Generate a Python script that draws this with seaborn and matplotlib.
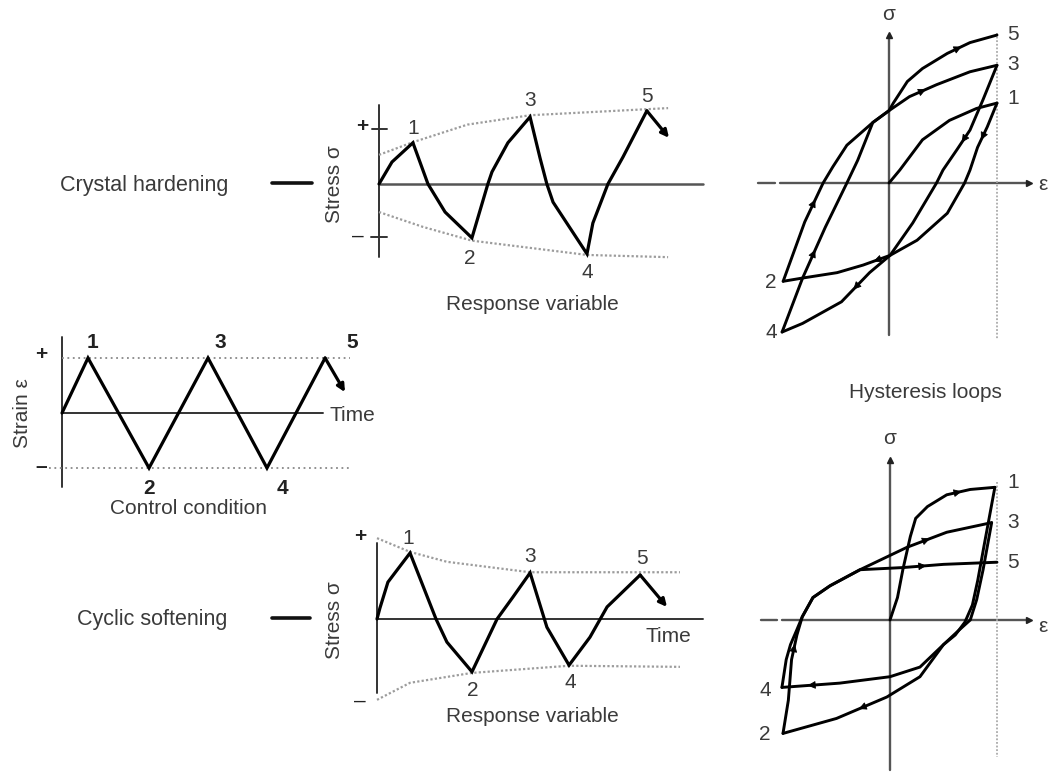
import matplotlib
matplotlib.use("Agg")
import matplotlib.pyplot as plt
from matplotlib.lines import Line2D
import numpy as np
import seaborn as sns

sns.set_theme(style="white")
plt.rcParams['font.family'] = ['Liberation Sans', 'DejaVu Sans']

# ---------------- data ----------------
# Control condition: strain vs time
ctrl_t = [0, 0.89, 2.98, 5.0, 7.02, 9.01]
ctrl_eps = [0, 1, -1, 1, -1, 1]
ctrl_end_t, ctrl_end_eps = 9.69, 0.38

# Crystal hardening: stress vs time
hard_t = [0, 0.44, 1.15, 1.66, 2.24, 3.15, 3.69, 3.83, 4.37, 5.12, 5.46, 5.69, 5.90, 7.05, 7.25, 7.76, 8.27, 9.08]
hard_sig = [0, 0.40, 0.75, 0, -0.51, -0.98, 0, 0.22, 0.75, 1.22, 0.47, 0, -0.33, -1.27, -0.71, 0, 0.49, 1.33]
hard_end_t, hard_end_sig = 9.83, 0.84
hard_up_t = [0, 1.15, 3.0, 5.12, 9.08, 9.8]
hard_up_sig = [0.53, 0.76, 1.08, 1.25, 1.36, 1.38]
hard_lo_t = [0, 1.49, 3.15, 7.05, 9.8]
hard_lo_sig = [-0.51, -0.78, -1.03, -1.29, -1.33]

# Cyclic softening: stress vs time
soft_t = [0, 0.10, 0.37, 0.68, 1.12, 2.0, 2.37, 3.22, 4.07, 4.61, 5.19, 5.76, 6.51, 7.22, 7.80, 8.92]
soft_sig = [0, 0.20, 0.67, 0.89, 1.20, 0, -0.42, -0.96, 0, 0.40, 0.84, -0.15, -0.84, -0.33, 0.22, 0.80]
soft_end_t, soft_end_sig = 9.83, 0.22
soft_up_t = [0, 1.12, 2.37, 5.19, 10.27]
soft_up_sig = [1.47, 1.22, 1.04, 0.85, 0.85]
soft_lo_t = [0, 1.12, 3.22, 6.51, 10.27]
soft_lo_sig = [-1.47, -1.16, -0.98, -0.85, -0.87]

# Hysteresis loops, crystal hardening (strain, stress) per branch
hh_eps_01 = [0, 0.10, 0.31, 0.56, 0.81, 1.00]
hh_sig_01 = [0, 0.12, 0.40, 0.58, 0.69, 0.74]
hh_eps_12 = [1.00, 0.91, 0.82, 0.75, 0.70, 0.54, 0.26, 0.01, -0.24, -0.48, -0.80, -0.98]
hh_sig_12 = [0.74, 0.52, 0.33, 0.12, 0, -0.28, -0.53, -0.67, -0.76, -0.83, -0.88, -0.91]
hh_eps_23 = [-0.98, -0.78, -0.61, -0.52, -0.39, -0.15, 0, 0.19, 0.44, 0.75, 1.00]
hh_sig_23 = [-0.91, -0.36, 0, 0.15, 0.35, 0.56, 0.67, 0.80, 0.91, 1.03, 1.09]
hh_eps_34 = [1.00, 0.87, 0.75, 0.63, 0.50, 0.44, 0.22, 0.01, -0.18, -0.44, -0.80, -0.99]
hh_sig_34 = [1.09, 0.77, 0.49, 0.31, 0.12, 0, -0.37, -0.67, -0.83, -1.10, -1.30, -1.38]
hh_eps_45 = [-0.99, -0.80, -0.59, -0.39, -0.29, -0.15, 0, 0.04, 0.17, 0.31, 0.54, 0.75, 1.00]
hh_sig_45 = [-1.38, -0.88, -0.41, 0, 0.21, 0.56, 0.67, 0.74, 0.94, 1.06, 1.20, 1.30, 1.37]

# Hysteresis loops, cyclic softening
hs_eps_01 = [0, 0.07, 0.12, 0.19, 0.24, 0.35, 0.53, 0.75, 0.98]
hs_sig_01 = [0, 0.21, 0.47, 0.78, 0.95, 1.06, 1.17, 1.22, 1.24]
hs_eps_12 = [0.98, 0.88, 0.82, 0.77, 0.70, 0.61, 0.50, 0.28, -0.03, -0.50, -1.00]
hs_sig_12 = [1.24, 0.70, 0.37, 0.14, -0.02, -0.14, -0.23, -0.53, -0.72, -0.92, -1.06]
hs_eps_23 = [-1.00, -0.95, -0.92, -0.87, -0.82, -0.72, -0.56, -0.28, 0.16, 0.53, 0.95]
hs_sig_23 = [-1.06, -0.75, -0.37, -0.14, 0.03, 0.21, 0.32, 0.47, 0.68, 0.82, 0.91]
hs_eps_34 = [0.95, 0.87, 0.81, 0.75, 0.65, 0.50, 0.28, 0, -0.47, -1.01]
hs_sig_34 = [0.91, 0.47, 0.19, 0, -0.09, -0.23, -0.44, -0.53, -0.59, -0.63]
hs_eps_45 = [-1.01, -0.97, -0.93, -0.87, -0.82, -0.72, -0.56, -0.28, 0.12, 0.50, 1.00]
hs_sig_45 = [-0.63, -0.37, -0.23, -0.09, 0.03, 0.21, 0.32, 0.47, 0.49, 0.52, 0.54]

strain_amp = 1.0
peak_labels = ['1', '2', '3', '4', '5']

# ---------------- figure ----------------
W, H = 1049, 773
fig = plt.figure(figsize=(W / 100, H / 100), dpi=100)
fig.patch.set_facecolor('white')

TXT = '#3a3a3a'
AX = '#555555'
ENV = '#9c9c9c'
LW = 2.3
FS = 15

panels = []


def panel(box, origin, scale):
    L, T, R, B = box
    ox, oy = origin
    sx, sy = scale
    ax = fig.add_axes([L / W, 1 - B / H, (R - L) / W, (B - T) / H])
    ax.axis('off')
    panels.append((ax, ((L - ox) / sx, (R - ox) / sx), ((oy - B) / sy, (oy - T) / sy)))
    return ax


def curve(ax, x, y, lw=LW, color='black'):
    sns.lineplot(x=x, y=y, sort=False, estimator=None, color=color, lw=lw, ax=ax,
                 solid_joinstyle='miter', legend=False)


def ftext(x, y, s, size=FS, **kw):
    kw.setdefault('ha', 'center')
    kw.setdefault('va', 'center')
    kw.setdefault('color', TXT)
    fig.text(x / W, 1 - y / H, s, fontsize=size, **kw)


def end_arrow(ax, x0, y0, x1, y1):
    ax.annotate('', xy=(x1, y1), xytext=(x0, y0),
                arrowprops=dict(arrowstyle='-|>', color='black', lw=LW,
                                mutation_scale=11, shrinkA=0, shrinkB=0))


def mid_arrows(ax, xs, ys, segs):
    for i in segs:
        x0, y0, x1, y1 = xs[i], ys[i], xs[i + 1], ys[i + 1]
        mx, my = (x0 + x1) / 2, (y0 + y1) / 2
        dx, dy = x1 - x0, y1 - y0
        n = np.hypot(dx, dy)
        ax.annotate('', xy=(mx + 0.03 * dx / n, my + 0.03 * dy / n), xytext=(mx, my),
                    arrowprops=dict(arrowstyle='-|>', color='black', lw=0.6,
                                    mutation_scale=12, shrinkA=0, shrinkB=0))


# ---- Control condition ----
axA = panel((0, 320, 400, 520), (62, 413), (29.2, 55))
axA.plot([0, 0], [1.38, -1.35], color='#333333', lw=1.4)
axA.plot([0, 8.94], [0, 0], color='#333333', lw=1.4)
axA.plot([0, 9.86], [strain_amp, strain_amp], color='#888888', lw=1.3, ls=(0, (1, 2)))
axA.plot([-0.45, 9.86], [-strain_amp, -strain_amp], color='#888888', lw=1.3, ls=(0, (1, 2)))
curve(axA, ctrl_t, ctrl_eps)
end_arrow(axA, ctrl_t[-1], ctrl_eps[-1], ctrl_end_t, ctrl_end_eps)

ftext(22, 413, 'Strain ε', rotation=90)
ftext(41, 355, '+', weight='bold', color='#222222')
ftext(41, 466, '–', weight='bold', color='#222222')
for lab, (x, y) in zip(peak_labels, [(92, 342), (149, 488), (220, 342), (282, 488), (352, 342)]):
    ftext(x, y, lab, weight='bold', color='#222222')
ftext(330, 415, 'Time', ha='left')
ftext(188, 508, 'Control condition')

# ---- Crystal hardening ----
axB = panel((320, 85, 720, 320), (379, 184), (29.5, 55))
axB.plot([0, 0], [1.44, -1.33], color='#333333', lw=1.4)
axB.plot([0, 10.98], [0, 0], color=AX, lw=1.8)
axB.plot([-0.24, 0.27], [1, 1], color='#333333', lw=1.4)
axB.plot([-0.27, 0.27], [-0.97, -0.97], color='#333333', lw=1.4)
curve(axB, hard_up_t, hard_up_sig, lw=1.6, color=ENV)
curve(axB, hard_lo_t, hard_lo_sig, lw=1.6, color=ENV)
for l in axB.lines[-2:]:
    l.set_linestyle((0, (1, 1)))
curve(axB, hard_t, hard_sig)
end_arrow(axB, hard_t[-1], hard_sig[-1], hard_end_t, hard_end_sig)

ftext(335, 184, 'Stress σ', rotation=90)
ftext(362, 127, '+', weight='bold', color='#222222')
ftext(358, 236, '–', color='#222222')
for lab, (x, y) in zip(peak_labels, [(413, 128), (470, 259), (530, 101), (587, 272), (647, 96)]):
    ftext(x, y, lab)
ftext(532, 305, 'Response variable')
ftext(60, 185, 'Crystal hardening', size=15.5, ha='left')
fig.add_artist(Line2D([272 / W, 312 / W], [1 - 183 / H, 1 - 183 / H], color='#111111', lw=2.6))

# ---- Cyclic softening ----
axC = panel((320, 520, 720, 735), (377, 619), (29.5, 55))
axC.plot([0, 0], [1.38, -1.35], color='#333333', lw=1.4)
axC.plot([0, 11.05], [0, 0], color='#333333', lw=1.4)
curve(axC, soft_up_t, soft_up_sig, lw=1.6, color=ENV)
curve(axC, soft_lo_t, soft_lo_sig, lw=1.6, color=ENV)
for l in axC.lines[-2:]:
    l.set_linestyle((0, (1, 1)))
curve(axC, soft_t, soft_sig)
end_arrow(axC, soft_t[-1], soft_sig[-1], soft_end_t, soft_end_sig)

ftext(335, 620, 'Stress σ', rotation=90)
ftext(360, 536, '+', weight='bold', color='#222222')
ftext(360, 701, '–', color='#222222')
for lab, (x, y) in zip(peak_labels, [(408, 538), (473, 690), (530, 557), (570, 682), (642, 559)]):
    ftext(x, y, lab)
ftext(668, 637, 'Time')
ftext(532, 717, 'Response variable')
ftext(77, 620, 'Cyclic softening', size=15.5, ha='left')
fig.add_artist(Line2D([272 / W, 310 / W], [1 - 618 / H, 1 - 618 / H], color='#111111', lw=2.6))


# ---- Hysteresis loops ----
def hyst_axes(ax, top, bottom):
    ax.plot([0, 0], [top, bottom], color=AX, lw=1.7)
    ax.plot([-1.21, -1.06], [0, 0], color=AX, lw=1.7)
    ax.plot([-1.01, 1.30], [0, 0], color=AX, lw=1.7)
    ax.plot([0], [top], marker='^', ms=5, color='#222222')
    ax.plot([1.30], [0], marker='>', ms=5, color='#222222')


axD = panel((750, 0, 1049, 345), (889, 183), (108, 108))
hyst_axes(axD, 1.37, -1.41)
axD.plot([strain_amp, strain_amp], [1.39, -1.44], color='#aaaaaa', lw=1.3, ls=(0, (1, 1)))
branches_h = [(hh_eps_01, hh_sig_01, []), (hh_eps_12, hh_sig_12, [1, 7]),
              (hh_eps_23, hh_sig_23, [1, 7]), (hh_eps_34, hh_sig_34, [2, 8]),
              (hh_eps_45, hh_sig_45, [1, 10])]
for e, s, segs in branches_h:
    curve(axD, e, s, lw=2.1)
    mid_arrows(axD, e, s, segs)
ftext(889, 15, 'σ')
ftext(1043, 185, 'ε')
for lab, (x, y) in zip(peak_labels, [(1013, 98), (771, 283), (1013, 65), (771, 333), (1013, 34)]):
    ftext(x, y, lab)

ftext(925, 393, 'Hysteresis loops')

axE = panel((750, 425, 1049, 773), (890, 620), (107, 107))
hyst_axes(axE, 1.50, -1.40)
axE.plot([strain_amp, strain_amp], [1.29, -1.28], color='#aaaaaa', lw=1.3, ls=(0, (1, 1)))
branches_s = [(hs_eps_01, hs_sig_01, [6]), (hs_eps_12, hs_sig_12, [8]),
              (hs_eps_23, hs_sig_23, [2, 8]), (hs_eps_34, hs_sig_34, [8]),
              (hs_eps_45, hs_sig_45, [8])]
for e, s, segs in branches_s:
    curve(axE, e, s, lw=2.1)
    mid_arrows(axE, e, s, segs)
ftext(890, 438, 'σ')
ftext(1043, 627, 'ε')
for lab, (x, y) in zip(peak_labels, [(1013, 483), (765, 735), (1013, 523), (765, 690), (1013, 563)]):
    ftext(x, y, lab)

for ax, xl, yl in panels:
    ax.set_xlim(*xl)
    ax.set_ylim(*yl)

fig.savefig('out.png', dpi=100, facecolor='white')
